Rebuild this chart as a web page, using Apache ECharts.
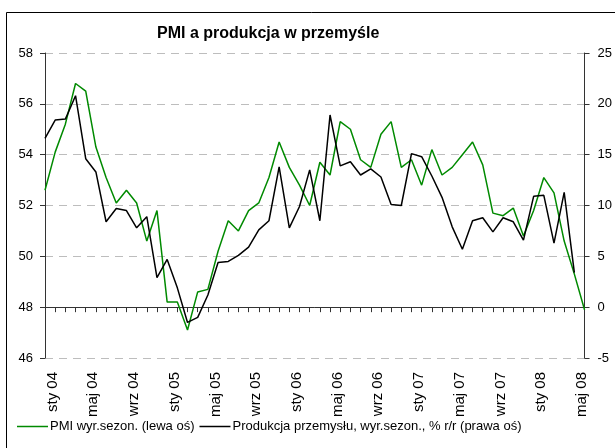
<!DOCTYPE html>
<html>
<head>
<meta charset="utf-8">
<script src="https://cdn.jsdelivr.net/npm/echarts@6/dist/echarts.min.js"></script>
<style>
html,body{margin:0;padding:0;background:#fff;}
#c{width:615px;height:448px;}
</style>
</head>
<body>
<div id="c"></div>
<script>
var categories = [
 'sty 04','lut 04','mar 04','kwi 04','maj 04','cze 04','lip 04','sie 04','wrz 04','paź 04','lis 04','gru 04',
 'sty 05','lut 05','mar 05','kwi 05','maj 05','cze 05','lip 05','sie 05','wrz 05','paź 05','lis 05','gru 05',
 'sty 06','lut 06','mar 06','kwi 06','maj 06','cze 06','lip 06','sie 06','wrz 06','paź 06','lis 06','gru 06',
 'sty 07','lut 07','mar 07','kwi 07','maj 07','cze 07','lip 07','sie 07','wrz 07','paź 07','lis 07','gru 07',
 'sty 08','lut 08','mar 08','kwi 08','maj 08','cze 08'
];
var pmi = [52.6,54.1,55.2,56.8,56.5,54.3,53.1,52.1,52.6,52.1,50.6,51.8,
 48.2,48.2,47.1,48.6,48.7,50.2,51.4,51.0,51.8,52.1,53.1,54.5,
 53.5,52.8,52.0,53.7,53.2,55.3,55.0,53.8,53.5,54.8,55.3,53.5,
 53.8,52.8,54.2,53.2,53.5,54.0,54.5,53.6,51.7,51.6,51.9,50.8,
 51.8,53.1,52.5,50.6,49.3,47.9];
var produkcja = [16.6,18.4,18.5,20.8,14.6,13.3,8.4,9.7,9.5,7.8,8.9,2.9,
 4.7,1.9,-1.5,-1.0,1.2,4.4,4.5,5.1,5.9,7.6,8.5,13.8,
 7.8,9.9,13.5,8.5,18.9,13.9,14.3,13.0,13.6,12.8,10.1,10.0,
 15.1,14.8,12.9,10.8,7.9,5.7,8.5,8.8,7.4,8.8,8.4,6.6,
 10.9,11.0,6.3,11.3,3.4];
var titleText = 'PMI a produkcja w przemyśle';
var seriesNames = ['PMI wyr.sezon. (lewa oś)', 'Produkcja przemysłu, wyr.sezon., % r/r (prawa oś)'];

var sans = '"Liberation Sans", Arial, sans-serif';
var chart = echarts.init(document.getElementById('c'), null, {renderer:'canvas'});
chart.setOption({
  animation: false,
  backgroundColor: '#fff',
  graphic: [{
    type: 'rect', left: 4, top: 10, silent: true,
    shape: {x: 0, y: 0, width: 700, height: 600},
    style: {fill: 'none', stroke: '#000', lineWidth: 1}
  }],
  title: {
    text: titleText, left: 152, top: 21,
    textStyle: {fontFamily: sans, fontWeight: 'bold', fontSize: 16, color: '#000'}
  },
  legend: {
    left: 17, top: 420, padding: 0, itemWidth: 31, itemHeight: 1.5, itemGap: 5, icon: 'rect',
    textStyle: {fontFamily: sans, fontSize: 13, color: '#000', padding: [0, 0, 0, -3]},
    data: seriesNames
  },
  grid: {left: 45, right: 30, top: 53, bottom: 90, containLabel: false},
  xAxis: {
    type: 'category', data: categories, boundaryGap: false,
    axisLine: {lineStyle: {color: '#333', width: 1}},
    axisTick: {show: true, interval: 0, length: 5, lineStyle: {color: '#333'}},
    axisLabel: {interval: 3, rotate: 90, margin: 14, verticalAlign: 'top',
      fontFamily: sans, fontSize: 15, color: '#000'},
    splitLine: {show: false}
  },
  yAxis: [{
    type: 'value', min: 46, max: 58, interval: 2, position: 'left',
    axisLine: {show: true, lineStyle: {color: '#333', width: 1}},
    axisTick: {show: true, length: 5, lineStyle: {color: '#333'}},
    axisLabel: {margin: 12, fontFamily: sans, fontSize: 13, color: '#000'},
    splitLine: {show: true, lineStyle: {color: '#bdbdbd', type: [8, 6], width: 1}}
  }, {
    type: 'value', min: -5, max: 25, interval: 5, position: 'right',
    axisLine: {show: true, lineStyle: {color: '#333', width: 1}},
    axisTick: {show: true, length: 5, lineStyle: {color: '#333'}},
    axisLabel: {margin: 13, fontFamily: sans, fontSize: 13, color: '#000'},
    splitLine: {show: false}
  }],
  series: [{
    name: seriesNames[0], type: 'line', yAxisIndex: 0, data: pmi,
    symbol: 'none', lineStyle: {color: '#008a00', width: 1.5}, itemStyle: {color: '#008a00'}
  }, {
    name: seriesNames[1], type: 'line', yAxisIndex: 1, data: produkcja,
    symbol: 'none', lineStyle: {color: '#000', width: 1.5}, itemStyle: {color: '#000'}
  }]
});
</script>
</body>
</html>
